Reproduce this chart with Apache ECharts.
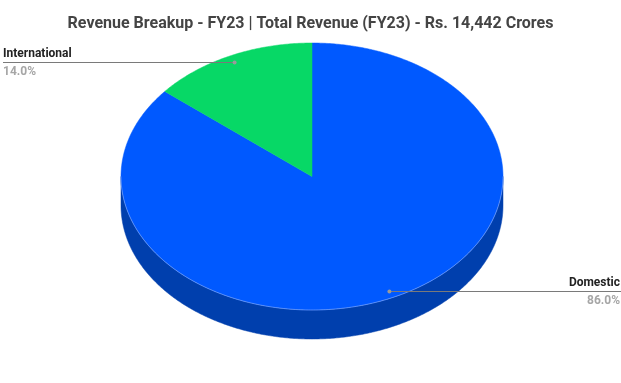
<!DOCTYPE html>
<html><head><meta charset="utf-8">
<script src="https://cdn.jsdelivr.net/npm/echarts@6/dist/echarts.min.js"></script>
<style>html,body{margin:0;padding:0;background:#fff}#c{width:621px;height:383px}</style>
</head><body><div id="c"></div>
<script>
const titleText = 'Revenue Breakup - FY23 | Total Revenue (FY23) - Rs. 14,442 Crores';
const categories = ['Domestic', 'International'];
const values = [86.0, 14.0];

const topColors = ['#0059ff', '#07d866'];
const sideColors = ['#003fad', '#05a04c'];
const CX = 312, CY = 176.5, RX = 191, RY = 133.5, DEPTH = 29, LR = 0.952;
const FONT = 'Roboto, "Liberation Sans", sans-serif';

const total = values.reduce((a, b) => a + b, 0);
function pt(deg, r, dy) {
  const t = deg * Math.PI / 180;
  return [CX + RX * r * Math.sin(t), CY - RY * r * Math.cos(t) + (dy || 0)];
}
function arc(a, b, dy) {
  const pts = [];
  const n = Math.max(2, Math.ceil(Math.abs(b - a) / 0.5));
  for (let i = 0; i <= n; i++) pts.push(pt(a + (b - a) * i / n, 1, dy));
  return pts;
}

const chart = echarts.init(document.getElementById('c'), null, {renderer: 'canvas'});
chart.setOption({
  animation: false,
  backgroundColor: '#fff',
  title: {
    text: titleText, left: 'center', top: 11,
    textStyle: {fontFamily: FONT, fontSize: 16, fontWeight: 'bold', color: '#444'}
  },
  series: [{
    type: 'custom',
    coordinateSystem: 'none',
    data: categories.map((c, i) => ({name: c, value: values[i]})),
    renderItem: function (params, api) {
      const i = params.dataIndex;
      let before = 0;
      for (let k = 0; k < i; k++) before += values[k];
      const a0 = before / total * 360;
      const a1 = (before + values[i]) / total * 360;
      const children = [];
      // side wall (front half only)
      const s0 = Math.max(a0, 90), s1 = Math.min(a1, 270);
      if (s1 > s0) {
        const topArc = arc(s0, s1, 0);
        const botArc = arc(s1, s0, DEPTH);
        children.push({type: 'polygon', z2: 1, shape: {points: topArc.concat(botArc)},
          style: {fill: sideColors[i], stroke: sideColors[i], lineWidth: 0.5}});
        children.push({type: 'polyline', z2: 12, shape: {points: topArc},
          style: {fill: null, stroke: 'rgba(190,210,255,0.55)', lineWidth: 0.8}});
      }
      // top face
      const face = [[CX, CY]].concat(arc(a0, a1, 0));
      children.push({type: 'polygon', z2: 10, shape: {points: face},
        style: {fill: topColors[i], stroke: topColors[i], lineWidth: 0.5}});
      // label
      const mid = (a0 + a1) / 2;
      const d = pt(mid, LR, 0);
      const W = api.getWidth();
      const left = d[0] < CX;
      const ly = Math.round(d[1]) + 0.5;
      const ex = left ? 3 : W;
      children.push({type: 'line', z2: 20, shape: {x1: d[0], y1: ly, x2: ex, y2: ly},
        style: {stroke: '#7a7a7a', lineWidth: 1}});
      children.push({type: 'circle', z2: 21, shape: {cx: d[0], cy: ly, r: 2},
        style: {fill: '#9a9a9a'}});
      const tx = left ? 3 : W - 1;
      const al = left ? 'left' : 'right';
      children.push({type: 'text', z2: 22, x: tx, y: ly - 9,
        style: {text: categories[i], font: 'bold 12px ' + FONT, fill: '#222', align: al, verticalAlign: 'middle'}});
      children.push({type: 'text', z2: 22, x: tx, y: ly + 9,
        style: {text: (values[i] / total * 100).toFixed(1) + '%', font: 'bold 12px ' + FONT, fill: '#a6a6a6', align: al, verticalAlign: 'middle'}});
      return {type: 'group', children: children};
    }
  }]
});
</script>
</body></html>
